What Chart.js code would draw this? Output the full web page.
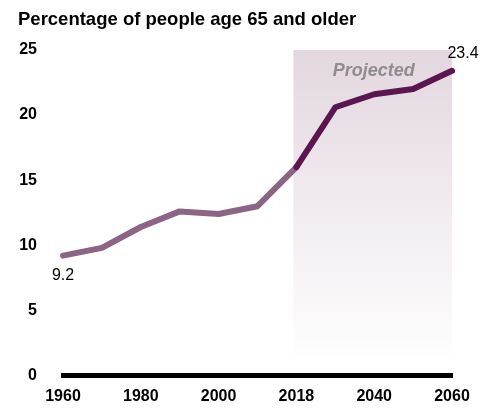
<!DOCTYPE html>
<html>
<head>
<meta charset="utf-8">
<script src="https://cdn.jsdelivr.net/npm/chart.js@4/dist/chart.umd.min.js"></script>
<style>
  html, body { margin: 0; padding: 0; background: #fff; overflow: hidden; }
  canvas { display: block; }
</style>
</head>
<body>
<canvas id="agechart" width="494" height="411"></canvas>
<script>
//Chart data
const years = ["1960", "1970", "1980", "1990", "2000", "2010", "2018", "2030", "2040", "2050", "2060"];
const shownYears = ["1960", "1980", "2000", "2018", "2040", "2060"];
const pctOlder = [9.2, 9.8, 11.4, 12.6, 12.4, 13.0, 16.0, 20.6, 21.6, 22.0, 23.4];
const projectedFrom = "2018";
const labelledPoints = ["1960", "2060"];

const pastColor = '#8c6486';
const futureColor = '#5b1650';
const fontFamily = '"Liberation Sans", Arial, sans-serif';
const splitIndex = years.indexOf(projectedFrom);

//Shaded "Projected" box behind the line
const projectedBox = {
    id: 'projectedBox',
    beforeDatasetsDraw(chart) {
        const {ctx, chartArea, scales: {x, y}} = chart;
        const left = x.getPixelForValue(splitIndex) - 3;
        const right = x.getPixelForValue(years.length - 1);
        const top = y.getPixelForValue(25);
        const bottom = chartArea.bottom - 12;
        const grad = ctx.createLinearGradient(0, top, 0, bottom);
        grad.addColorStop(0, '#e3d7e0');
        grad.addColorStop(1, '#ffffff');
        ctx.save();
        ctx.fillStyle = grad;
        ctx.fillRect(left, top, right - left, bottom - top);
        ctx.fillStyle = '#8f8b8f';
        ctx.font = 'italic bold 18px ' + fontFamily;
        ctx.textAlign = 'center';
        ctx.textBaseline = 'middle';
        ctx.fillText('Projected', (left + right) / 2 + 1, top + 21);
        ctx.restore();
    }
};

//Value labels on first and last points
const endLabels = {
    id: 'endLabels',
    afterDatasetsDraw(chart) {
        const {ctx} = chart;
        const points = chart.getDatasetMeta(0).data;
        ctx.save();
        ctx.fillStyle = '#000';
        ctx.font = '16px ' + fontFamily;
        ctx.textBaseline = 'middle';
        ctx.textAlign = 'center';
        labelledPoints.forEach(function(yr) {
            const i = years.indexOf(yr);
            const p = points[i];
            if (i === 0) {
                ctx.fillText(pctOlder[i].toFixed(1), p.x, p.y + 20);
            } else {
                ctx.fillText(pctOlder[i].toFixed(1), p.x + 11, p.y - 17);
            }
        });
        ctx.restore();
    }
};

const ageChart = new Chart(
    document.getElementById('agechart'),
    {
        type: 'line',
        data: {
            labels: years,
            datasets: [{
                data: pctOlder,
                borderWidth: 6,
                borderColor: pastColor,
                borderCapStyle: 'round',
                borderJoinStyle: 'round',
                pointRadius: 0,
                tension: 0,
                segment: {
                    borderColor: ctx => ctx.p0DataIndex >= splitIndex ? futureColor : pastColor,
                },
            }]
        },
        options: {
            responsive: false,
            animation: false,
            layout: {
                padding: {left: 18, right: 42, top: 0, bottom: 0}
            },
            scales: {
                x: {
                    offset: false,
                    grid: {display: false, drawTicks: false},
                    border: {display: true, color: '#000', width: 5},
                    ticks: {
                        autoSkip: false,
                        maxRotation: 0,
                        padding: 12,
                        color: '#000',
                        font: {family: fontFamily, size: 16, weight: 'bold'},
                        callback: function(val, i) {
                            return shownYears.includes(years[i]) ? years[i] : '';
                        }
                    },
                    afterFit: function(scale) { scale.height = 31; }
                },
                y: {
                    min: 0,
                    max: 25,
                    grid: {display: false, drawTicks: false},
                    border: {display: false},
                    ticks: {
                        stepSize: 5,
                        padding: 26,
                        color: '#000',
                        font: {family: fontFamily, size: 16, weight: 'bold'},
                    },
                    afterFit: function(scale) { scale.width = 45; }
                }
            },
            plugins: {
                legend: {display: false},
                tooltip: {enabled: false},
                title: {
                    display: true,
                    text: 'Percentage of people age 65 and older',
                    align: 'start',
                    color: '#000',
                    font: {family: fontFamily, size: 18.5, weight: 'bold'},
                    padding: {top: 9, bottom: 18.8}
                }
            },
        },
        plugins: [projectedBox, endLabels]
    }
);
</script>
</body>
</html>
